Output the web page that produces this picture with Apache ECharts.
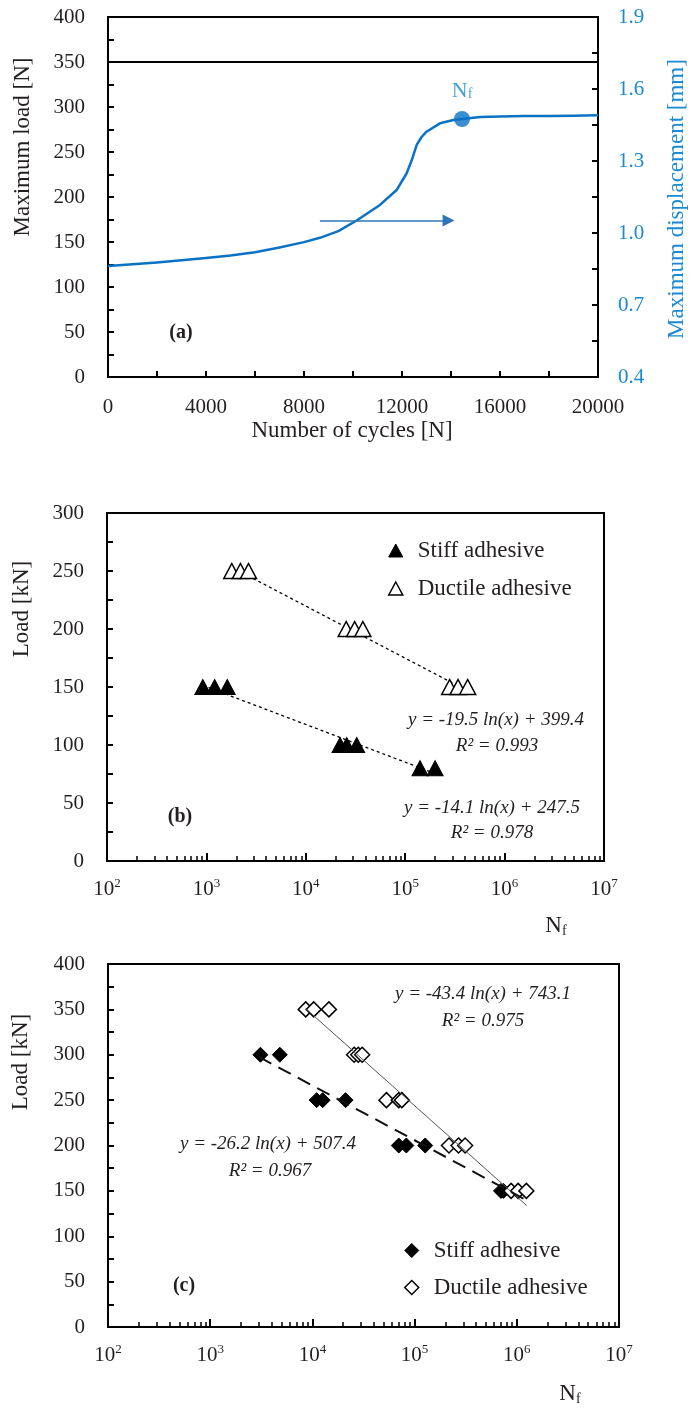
<!DOCTYPE html>
<html><head><meta charset="utf-8">
<script src="https://cdn.jsdelivr.net/npm/echarts@6/dist/echarts.min.js"></script>
<style>html,body{margin:0;padding:0;background:#fff}#c{width:693px;height:1408px}</style>
</head><body><div id="c"></div>
<script>
// ---------- (a) data ----------
const cyclesA = [0, 1000, 2000, 3000, 4000, 5000, 6000, 7000, 8000, 8650, 9400, 10150, 11100, 11780, 12190, 12400, 12600, 12800, 13000, 13550, 14100, 14450, 15200, 16000, 17000, 18000, 19000, 20000];
const dispA   = [0.862, 0.870, 0.877, 0.886, 0.896, 0.906, 0.920, 0.940, 0.962, 0.980, 1.008, 1.052, 1.117, 1.179, 1.249, 1.304, 1.367, 1.400, 1.422, 1.457, 1.471, 1.475, 1.483, 1.485, 1.487, 1.488, 1.489, 1.491];
const loadCyclesA = [0, 2000, 4000, 6000, 8000, 10000, 12000, 14000, 16000, 18000, 20000];
const loadA       = [350, 350, 350, 350, 350, 350, 350, 350, 350, 350, 350];
const nfPointA = [14450, 1.475];
const arrowA = [[8650, 174], [13900, 174]];
const dispLabelValues = [0.4, 0.7, 1.0, 1.3, 1.6, 1.9];
const dispTickValues = [0.4, 0.55, 0.7, 0.85, 1.0, 1.15, 1.3, 1.45, 1.6, 1.75, 1.9];

// ---------- (b) data ----------
const stiffB_N = [920, 1210, 1620, 22100, 25800, 32500, 141000, 200000];
const stiffB_L = [150, 150, 150, 100, 100, 100, 80, 80];
const ductB_N  = [1800, 2200, 2650, 25500, 31000, 37500, 280000, 340000, 425000];
const ductB_L  = [250, 250, 250, 200, 200, 200, 150, 150, 150];
const trendStiffB = [[920, 151.4], [200000, 75.4]];
const trendDuctB  = [[1800, 253.2], [425000, 146.6]];

// ---------- (c) data ----------
const stiffC_N = [3100, 4800, 11000, 12600, 21100, 70000, 83000, 127000, 700000, 740000];
const stiffC_L = [300, 300, 250, 250, 250, 200, 200, 200, 150, 150];
const ductC_N  = [8600, 10300, 14500, 25600, 28100, 30700, 53000, 70000, 75000, 217000, 269000, 312000, 880000, 1030000, 1240000];
const ductC_L  = [350, 350, 350, 300, 300, 300, 250, 250, 250, 200, 200, 200, 150, 150, 150];
const trendStiffC = [[3000, 297.6], [1200000, 140.7]];
const trendDuctC  = [[8600, 350.8], [1250000, 133.8]];

// tick positions for log axes (2..9 x 10^k)
const logMinorTicks = [];
for (let e = 2; e < 7; e++) for (let m = 2; m <= 9; m++) logMinorTicks.push(m * Math.pow(10, e));

const FF = '"Liberation Serif", "Times New Roman", serif';
const TXT = '#231f20';
const BLUE = '#0a72c4';
const LBLUE = '#1a8ad4';

const zip = (a, b) => a.map((v, i) => [v, b[i]]);

function valueX(gridIndex, min, max, interval) {
  return {
    type: 'value', gridIndex, min, max, interval, position: 'bottom',
    axisLine: { show: true, lineStyle: { color: '#000', width: 2 } },
    axisTick: { show: true, inside: true, length: 6, lineStyle: { color: '#000', width: 2 } },
    minorTick: { show: true, splitNumber: 2, length: 6, lineStyle: { color: '#000', width: 2 } },
    splitLine: { show: false },
    axisLabel: { color: TXT, fontFamily: FF, fontSize: 21, margin: 20, formatter: v => String(v) }
  };
}
function valueY(gridIndex, min, max, interval) {
  return {
    type: 'value', gridIndex, min, max, interval, position: 'left',
    axisLine: { show: true, lineStyle: { color: '#000', width: 2 } },
    axisTick: { show: true, inside: true, length: 6, lineStyle: { color: '#000', width: 2 } },
    minorTick: { show: true, splitNumber: 2, length: 6, lineStyle: { color: '#000', width: 2 } },
    splitLine: { show: false },
    axisLabel: { color: TXT, fontFamily: FF, fontSize: 21, margin: 23 }
  };
}
function logMajor(gridIndex) {
  return {
    type: 'log', logBase: 10, gridIndex, min: 100, max: 1e7, position: 'bottom',
    axisLine: { show: true, lineStyle: { color: '#000', width: 2 } },
    axisTick: { show: true, inside: true, length: 8, lineStyle: { color: '#000', width: 2 } },
    splitLine: { show: false },
    axisLabel: {
      margin: 16,
      formatter: v => '{b|10}{s|' + Math.round(Math.log10(v)) + '}',
      rich: {
        b: { fontFamily: FF, fontSize: 21, color: TXT },
        s: { fontFamily: FF, fontSize: 13, color: TXT, padding: [0, 0, 12, 0] }
      }
    }
  };
}
function logMinor(gridIndex) {
  return {
    type: 'log', logBase: 10, gridIndex, min: 100, max: 1e7, position: 'bottom', offset: 0,
    axisLine: { show: false },
    axisTick: { show: true, inside: true, length: 5, customValues: logMinorTicks, lineStyle: { color: '#000', width: 1.5 } },
    axisLabel: { show: false },
    splitLine: { show: false }
  };
}

const option = {
  animation: false,
  backgroundColor: '#fff',
  grid: [
    { left: 108, top: 17, width: 490, height: 360, show: true, borderColor: '#000', borderWidth: 2 },
    { left: 107, top: 513, width: 497, height: 348, show: true, borderColor: '#000', borderWidth: 2 },
    { left: 108, top: 964, width: 511, height: 363, show: true, borderColor: '#000', borderWidth: 2 }
  ],
  xAxis: [
    valueX(0, 0, 20000, 4000),
    logMajor(1), logMinor(1),
    logMajor(2), logMinor(2)
  ],
  yAxis: [
    valueY(0, 0, 400, 50),
    {
      type: 'value', gridIndex: 0, position: 'right', min: 0.4, max: 1.9,
      axisLine: { show: true, lineStyle: { color: '#000', width: 2 } },
      axisTick: { show: true, inside: true, length: 6, customValues: dispTickValues, lineStyle: { color: '#000', width: 2 } },
      splitLine: { show: false },
      axisLabel: { customValues: dispLabelValues, color: LBLUE, fontFamily: FF, fontSize: 21, margin: 20, formatter: v => v.toFixed(1) }
    },
    valueY(1, 0, 300, 50),
    valueY(2, 0, 400, 50)
  ],
  legend: [
    {
      orient: 'vertical', left: 388, top: 539, padding: 0, itemGap: 15, itemWidth: 14, itemHeight: 13,
      textStyle: { fontFamily: FF, fontSize: 23, color: TXT, padding: [0, 0, 0, 10] },
      data: [
        { name: 'Stiff adhesive', icon: 'triangle', itemStyle: { color: '#000', borderColor: '#000', borderWidth: 1 } },
        { name: 'Ductile adhesive', icon: 'triangle', itemStyle: { color: '#fff', borderColor: '#000', borderWidth: 1.5 } }
      ]
    },
    {
      orient: 'vertical', left: 404, top: 1239, padding: 0, itemGap: 14, itemWidth: 14, itemHeight: 14,
      textStyle: { fontFamily: FF, fontSize: 23, color: TXT, padding: [0, 0, 0, 10] },
      data: [
        { name: 'Stiff adhesive', icon: 'diamond', itemStyle: { color: '#000', borderColor: '#000', borderWidth: 1 } },
        { name: 'Ductile adhesive', icon: 'diamond', itemStyle: { color: '#fff', borderColor: '#000', borderWidth: 1.5 } }
      ]
    }
  ],
  series: [
    {
      name: 'Maximum load', type: 'line', xAxisIndex: 0, yAxisIndex: 0,
      data: zip(loadCyclesA, loadA), showSymbol: false, symbol: 'none',
      lineStyle: { color: '#000', width: 2 },
      markLine: {
        silent: true, symbol: ['none', 'triangle'], symbolSize: 12,
        label: { show: false },
        lineStyle: { color: '#2e75b6', width: 1.5, type: 'solid' },
        data: [[{ coord: arrowA[0] }, { coord: arrowA[1] }]]
      }
    },
    {
      name: 'Maximum displacement', type: 'line', xAxisIndex: 0, yAxisIndex: 1,
      data: zip(cyclesA, dispA), showSymbol: false, symbol: 'none', smooth: false,
      lineStyle: { color: BLUE, width: 2.5, join: 'round' }
    },
    {
      name: 'Nf', type: 'scatter', xAxisIndex: 0, yAxisIndex: 1,
      data: [nfPointA], symbol: 'circle', symbolSize: 16,
      itemStyle: { color: BLUE },
      label: {
        show: true, position: 'top', distance: 9,
        formatter: '{n|N}{f|f}',
        rich: {
          n: { fontFamily: FF, fontSize: 22, color: LBLUE },
          f: { fontFamily: FF, fontSize: 14, color: LBLUE, padding: [6, 0, 0, 0] }
        }
      }
    },
    // (b)
    {
      name: 'trend ductile b', type: 'line', xAxisIndex: 1, yAxisIndex: 2,
      data: trendDuctB, symbol: 'none', lineStyle: { color: '#000', width: 1.3, type: [3, 3] }, z: 1
    },
    {
      name: 'trend stiff b', type: 'line', xAxisIndex: 1, yAxisIndex: 2,
      data: trendStiffB, symbol: 'none', lineStyle: { color: '#000', width: 1.3, type: [3, 3] }, z: 1
    },
    {
      name: 'Stiff adhesive', type: 'scatter', xAxisIndex: 1, yAxisIndex: 2,
      data: zip(stiffB_N, stiffB_L), symbol: 'triangle', symbolSize: [16, 15],
      itemStyle: { color: '#000', borderColor: '#000', borderWidth: 1, opacity: 1 }, z: 3
    },
    {
      name: 'Ductile adhesive', type: 'scatter', xAxisIndex: 1, yAxisIndex: 2,
      data: zip(ductB_N, ductB_L), symbol: 'triangle', symbolSize: [16, 15],
      itemStyle: { color: '#fff', borderColor: '#000', borderWidth: 1.5, opacity: 1 }, z: 3
    },
    // (c)
    {
      name: 'trend ductile c', type: 'line', xAxisIndex: 3, yAxisIndex: 3,
      data: trendDuctC, symbol: 'none', lineStyle: { color: '#555', width: 1 }, z: 4
    },
    {
      name: 'trend stiff c', type: 'line', xAxisIndex: 3, yAxisIndex: 3,
      data: trendStiffC, symbol: 'none', lineStyle: { color: '#111', width: 2, type: [14, 8] }, z: 4
    },
    {
      name: 'Stiff adhesive', type: 'scatter', xAxisIndex: 3, yAxisIndex: 3,
      data: zip(stiffC_N, stiffC_L), symbol: 'diamond', symbolSize: 15,
      itemStyle: { color: '#000', borderColor: '#000', borderWidth: 1, opacity: 1 }, z: 3
    },
    {
      name: 'Ductile adhesive', type: 'scatter', xAxisIndex: 3, yAxisIndex: 3,
      data: zip(ductC_N, ductC_L), symbol: 'diamond', symbolSize: 15,
      itemStyle: { color: '#fff', borderColor: '#000', borderWidth: 1.5, opacity: 1 }, z: 3
    }
  ],
  graphic: [
    { type: 'text', x: 23, y: 147, rotation: Math.PI / 2, style: { text: 'Maximum load [N]', fontFamily: FF, fontSize: 23, fill: TXT, textAlign: 'center', textVerticalAlign: 'middle' } },
    { type: 'text', x: 677, y: 199, rotation: Math.PI / 2, style: { text: 'Maximum displacement [mm]', fontFamily: FF, fontSize: 23, fill: LBLUE, textAlign: 'center', textVerticalAlign: 'middle' } },
    { type: 'text', x: 352, y: 431, style: { text: 'Number of cycles [N]', fontFamily: FF, fontSize: 23, fill: TXT, textAlign: 'center', textVerticalAlign: 'middle' } },
    { type: 'text', x: 181, y: 333, style: { text: '(a)', fontFamily: FF, fontSize: 20, fontWeight: 'bold', fill: TXT, textAlign: 'center', textVerticalAlign: 'middle' } },

    { type: 'text', x: 22, y: 609, rotation: Math.PI / 2, style: { text: 'Load [kN]', fontFamily: FF, fontSize: 23, fill: TXT, textAlign: 'center', textVerticalAlign: 'middle' } },
    { type: 'text', x: 180, y: 817, style: { text: '(b)', fontFamily: FF, fontSize: 20, fontWeight: 'bold', fill: TXT, textAlign: 'center', textVerticalAlign: 'middle' } },
    { type: 'text', x: 496, y: 720, style: { text: 'y = -19.5 ln(x) + 399.4', fontFamily: FF, fontSize: 19, fontStyle: 'italic', fill: TXT, textAlign: 'center', textVerticalAlign: 'middle' } },
    { type: 'text', x: 497, y: 746, style: { text: 'R² = 0.993', fontFamily: FF, fontSize: 19, fontStyle: 'italic', fill: TXT, textAlign: 'center', textVerticalAlign: 'middle' } },
    { type: 'text', x: 492, y: 808, style: { text: 'y = -14.1 ln(x) + 247.5', fontFamily: FF, fontSize: 19, fontStyle: 'italic', fill: TXT, textAlign: 'center', textVerticalAlign: 'middle' } },
    { type: 'text', x: 492, y: 833, style: { text: 'R² = 0.978', fontFamily: FF, fontSize: 19, fontStyle: 'italic', fill: TXT, textAlign: 'center', textVerticalAlign: 'middle' } },
    { type: 'text', x: 556, y: 926, style: { text: '{n|N}{f|f}', rich: { n: { fontFamily: FF, fontSize: 23, fill: TXT }, f: { fontFamily: FF, fontSize: 14, fill: TXT, padding: [10, 0, 0, 0] } }, textAlign: 'center', textVerticalAlign: 'middle' } },

    { type: 'text', x: 21, y: 1062, rotation: Math.PI / 2, style: { text: 'Load [kN]', fontFamily: FF, fontSize: 23, fill: TXT, textAlign: 'center', textVerticalAlign: 'middle' } },
    { type: 'text', x: 184, y: 1286, style: { text: '(c)', fontFamily: FF, fontSize: 20, fontWeight: 'bold', fill: TXT, textAlign: 'center', textVerticalAlign: 'middle' } },
    { type: 'text', x: 483, y: 994, style: { text: 'y = -43.4 ln(x) + 743.1', fontFamily: FF, fontSize: 19, fontStyle: 'italic', fill: TXT, textAlign: 'center', textVerticalAlign: 'middle' } },
    { type: 'text', x: 483, y: 1021, style: { text: 'R² = 0.975', fontFamily: FF, fontSize: 19, fontStyle: 'italic', fill: TXT, textAlign: 'center', textVerticalAlign: 'middle' } },
    { type: 'text', x: 268, y: 1144, style: { text: 'y = -26.2 ln(x) + 507.4', fontFamily: FF, fontSize: 19, fontStyle: 'italic', fill: TXT, textAlign: 'center', textVerticalAlign: 'middle' } },
    { type: 'text', x: 270, y: 1171, style: { text: 'R² = 0.967', fontFamily: FF, fontSize: 19, fontStyle: 'italic', fill: TXT, textAlign: 'center', textVerticalAlign: 'middle' } },
    { type: 'text', x: 570, y: 1394, style: { text: '{n|N}{f|f}', rich: { n: { fontFamily: FF, fontSize: 23, fill: TXT }, f: { fontFamily: FF, fontSize: 14, fill: TXT, padding: [10, 0, 0, 0] } }, textAlign: 'center', textVerticalAlign: 'middle' } }
  ]
};

const chart = echarts.init(document.getElementById('c'), null, { renderer: 'canvas' });
chart.setOption(option);
</script>
</body></html>
